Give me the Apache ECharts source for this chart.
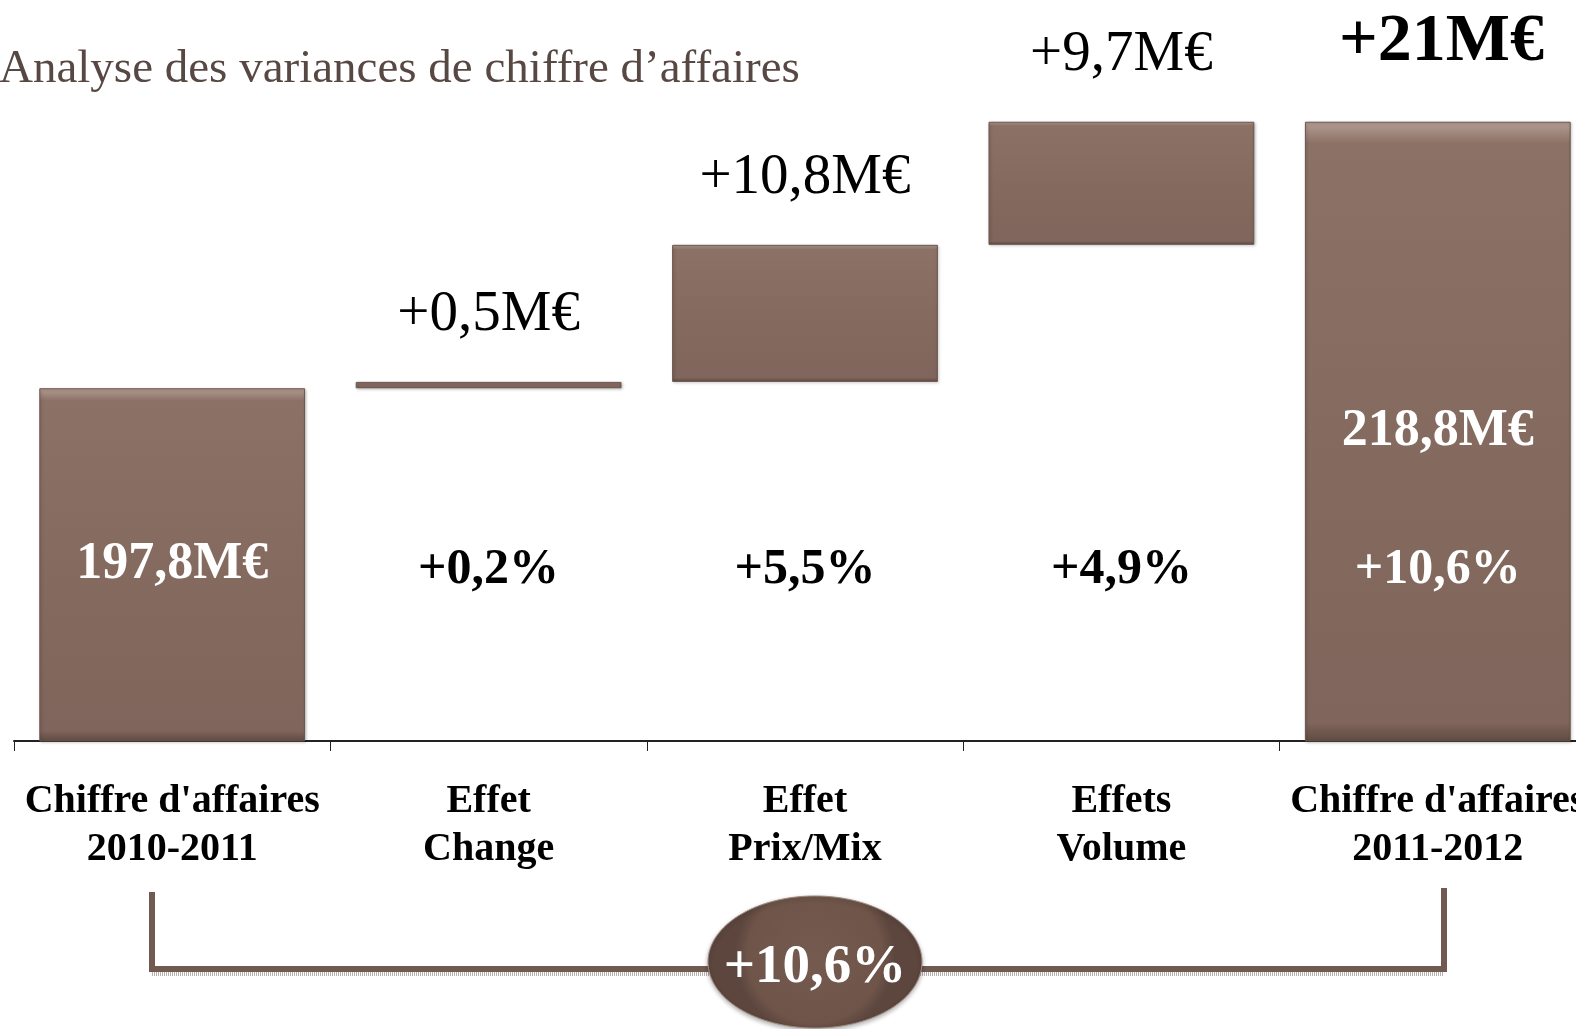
<!DOCTYPE html>
<html>
<head>
<meta charset="utf-8">
<script src="https://cdn.jsdelivr.net/npm/echarts@6/dist/echarts.min.js"></script>
<style>
  html, body { margin: 0; padding: 0; background: #fff; }
  #chart { width: 1576px; height: 1029px; }
</style>
</head>
<body>
<div id="chart"></div>
<script>
// données
var categories = ["Chiffre d'affaires\n2010-2011", "Effet\nChange", "Effet\nPrix/Mix", "Effets\nVolume", "Chiffre d'affaires\n2011-2012"];
var startValue = 197.8;
var deltas = [0.5, 10.8, 9.7];
var endValue = 218.8;
var startLabel = '197,8M€';
var endLabel = '218,8M€';
var deltaLabels = ['+0,5M€', '+10,8M€', '+9,7M€'];
var totalDeltaLabel = '+21M€';
var pctLabels = ['+0,2%', '+5,5%', '+4,9%', '+10,6%'];
var overallLabel = '+10,6%';

var serif = '"Liberation Serif", "Times New Roman", serif';

// base invisible + barres visibles (cascade)
var helper = ['-'];
var visible = [startValue];
var run = startValue;
deltas.forEach(function (d) {
  helper.push(run);
  visible.push(d);
  run += d;
});
helper.push('-');
visible.push(endValue);

var barColor = new echarts.graphic.LinearGradient(0, 0, 0, 1, [
  { offset: 0, color: '#b49e95' },
  { offset: 0.035, color: '#8c7166' },
  { offset: 0.5, color: '#856a5f' },
  { offset: 0.97, color: '#7f655b' },
  { offset: 1, color: '#5f4a42' }
]);

var visibleData = visible.map(function (v, i) {
  var item = { value: v };
  if (i === 0) {
    item.label = { show: true, position: 'inside', formatter: startLabel, color: '#fff', fontSize: 52, fontWeight: 'bold', fontFamily: serif };
  } else if (i === visible.length - 1) {
    item.label = { show: true, position: 'inside', formatter: endLabel, color: '#fff', fontSize: 52, fontWeight: 'bold', fontFamily: serif };
  } else {
    item.label = { show: true, position: 'top', distance: 38, formatter: deltaLabels[i - 1], color: '#000', fontSize: 57, fontFamily: serif };
  }
  return item;
});

var pctData = pctLabels.map(function (p, i) {
  var last = i === pctLabels.length - 1;
  return {
    value: [i + 1, 183.5],
    label: { formatter: p, color: last ? '#fff' : '#000' }
  };
});

var myChart = echarts.init(document.getElementById('chart'));

var option = {
  animation: false,
  backgroundColor: '#fff',
  title: {
    text: 'Analyse des variances de chiffre d\u2019affaires',
    left: -6,
    top: 41,
    textStyle: { fontFamily: serif, fontSize: 47, fontWeight: 'normal', color: '#574843' }
  },
  grid: { left: 14, right: -20, top: 5, bottom: 288, outerBoundsMode: 'none' },
  xAxis: {
    type: 'category',
    data: categories,
    axisLine: { lineStyle: { color: '#222', width: 2 } },
    axisTick: { show: true, length: 10, lineStyle: { color: '#222', width: 1 } },
    axisLabel: {
      interval: 0,
      margin: 37,
      color: '#000',
      fontFamily: serif,
      fontSize: 40,
      fontWeight: 'bold',
      lineHeight: 48
    }
  },
  yAxis: { type: 'value', min: 170, max: 228, show: false, splitLine: { show: false } },
  series: [
    {
      type: 'bar',
      stack: 'w',
      data: helper,
      barWidth: '84%',
      itemStyle: { color: 'transparent' },
      silent: true
    },
    {
      type: 'bar',
      stack: 'w',
      data: visibleData,
      barWidth: '84%',
      itemStyle: {
        color: barColor,
        borderColor: '#6b554c',
        borderWidth: 1,
        shadowColor: 'rgba(0,0,0,0.25)',
        shadowBlur: 3,
        shadowOffsetX: 1,
        shadowOffsetY: 1
      }
    },
    {
      type: 'scatter',
      data: pctData,
      symbolSize: 0,
      itemStyle: { opacity: 1 },
      label: { show: true, position: 'inside', opacity: 1, fontFamily: serif, fontSize: 50, fontWeight: 'bold' },
      z: 5
    }
  ],
  graphic: [
    {
      type: 'text',
      left: 1339,
      top: 8,
      style: { text: totalDeltaLabel, font: 'bold 68px ' + serif, fill: '#000' }
    },
    {
      type: 'polyline',
      shape: { points: [[152, 974], [1444, 974]] },
      style: { stroke: '#b9b1ad', lineWidth: 4, lineDash: [1, 1], fill: null }
    },
    {
      type: 'polyline',
      shape: { points: [[152, 892], [152, 969], [1444, 969], [1444, 888]] },
      style: { stroke: '#705a52', lineWidth: 6, fill: null }
    },
    {
      type: 'ellipse',
      shape: { cx: 815, cy: 962, rx: 107, ry: 66 },
      style: {
        fill: new echarts.graphic.RadialGradient(0.5, 0.45, 0.6, [
          { offset: 0, color: '#745a4f' },
          { offset: 0.85, color: '#6e5449' },
          { offset: 1, color: '#5c463e' }
        ]),
        stroke: '#a08a81',
        lineWidth: 1,
        shadowColor: 'rgba(0,0,0,0.3)',
        shadowBlur: 4,
        shadowOffsetY: 2
      }
    },
    {
      type: 'text',
      x: 815,
      y: 968,
      style: { text: overallLabel, font: 'bold 55px ' + serif, fill: '#fff', align: 'center', verticalAlign: 'middle' }
    }
  ]
};

myChart.setOption(option);
</script>
</body>
</html>
